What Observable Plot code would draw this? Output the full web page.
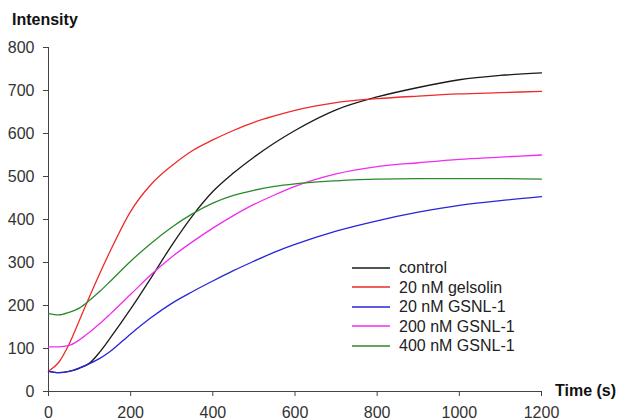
<!DOCTYPE html>
<html><head><meta charset="utf-8">
<script src="https://cdn.jsdelivr.net/npm/d3@7"></script>
<script src="https://cdn.jsdelivr.net/npm/@observablehq/plot@0.6"></script>
<style>
body{margin:0;background:#fff;}
#wrap{position:relative;width:620px;height:420px;font-family:"Liberation Sans",Arial,sans-serif;color:#222;}
.lab{position:absolute;font-weight:bold;font-size:16px;line-height:16px;white-space:nowrap;color:#111;}
#legend{position:absolute;left:352px;top:258px;font-size:16px;line-height:19.5px;color:#222;}
#legend .row{display:flex;align-items:center;height:19.5px;white-space:nowrap;}
#legend svg{margin-right:9px;}
</style></head><body><div id="wrap"></div>
<script>
const times   = [0, 25, 50, 75, 100, 125, 150, 200, 250, 300, 350, 400, 450, 500, 550, 600, 700, 800, 900, 1000, 1100, 1200];
const control = [47, 44, 47, 54, 66, 92, 124, 192, 265, 340, 408, 465, 508, 545, 578, 607, 655, 685, 707, 725, 735, 741];
const gelsolin20 = [47, 68, 110, 165, 221, 275, 326, 419, 482, 525, 560, 585, 607, 626, 641, 654, 672, 681, 687, 692, 695, 698];
const gsnl20  = [47, 44, 47, 55, 65, 77, 93, 134, 172, 205, 232, 257, 281, 303, 324, 342, 373, 397, 417, 433, 444, 453];
const gsnl200 = [104, 104, 107, 120, 138, 158, 180, 226, 272, 313, 348, 380, 409, 435, 457, 477, 506, 523, 532, 540, 545, 550];
const gsnl400 = [181, 178, 184, 194, 212, 233, 256, 303, 345, 382, 413, 438, 456, 468, 477, 483, 490, 494, 495, 495, 495, 494];

const seriesNames  = ["control", "20 nM gelsolin", "20 nM GSNL-1", "200 nM GSNL-1", "400 nM GSNL-1"];
const seriesValues = [control, gelsolin20, gsnl20, gsnl200, gsnl400];
const seriesColors = ["#1a1a1a", "#ee2a2a", "#2626d8", "#f02cf0", "#2a8a2a"];
const xTicks = [0, 200, 400, 600, 800, 1000, 1200];
const yTicks = [0, 100, 200, 300, 400, 500, 600, 700, 800];
const yTitle = "Intensity";
const xTitle = "Time (s)";

const rows = [];
seriesValues.forEach((vals, i) => vals.forEach((v, j) => rows.push({t: times[j], v, s: seriesNames[i]})));

const chart = Plot.plot({
  width: 620, height: 420,
  marginLeft: 48, marginRight: 79, marginTop: 47, marginBottom: 29,
  style: {fontFamily: "Liberation Sans, Arial, sans-serif", fontSize: "16px", color: "#333", background: "white"},
  x: {domain: [0, 1200]},
  y: {domain: [0, 800]},
  color: {domain: seriesNames, range: seriesColors},
  marks: [
    Plot.ruleY([0], {stroke: "#444"}),
    Plot.ruleX([0], {stroke: "#444"}),
    Plot.axisX({ticks: xTicks, tickFormat: d3.format("d"), tickSize: 5, tickPadding: 10, label: null, stroke: "#444", fill: "#333", fontSize: 16}),
    Plot.axisY({ticks: yTicks, tickFormat: d3.format("d"), tickSize: 5, tickPadding: 9, label: null, stroke: "#444", fill: "#333", fontSize: 16}),
    Plot.line(rows, {x: "t", y: "v", z: "s", stroke: "s", strokeWidth: 1.3, curve: "monotone-x"})
  ]
});

const wrap = document.getElementById("wrap");
wrap.appendChild(chart);

const t1 = document.createElement("div");
t1.className = "lab"; t1.textContent = yTitle; t1.style.left = "12px"; t1.style.top = "12px";
wrap.appendChild(t1);
const t2 = document.createElement("div");
t2.className = "lab"; t2.textContent = xTitle; t2.style.left = "555px"; t2.style.top = "383px";
wrap.appendChild(t2);

const legend = d3.select(wrap).append("div").attr("id", "legend");
seriesNames.forEach((name, i) => {
  const r = legend.append("div").attr("class", "row");
  r.append("svg").attr("width", 38).attr("height", 4)
    .append("line").attr("x1", 0).attr("x2", 38).attr("y1", 2).attr("y2", 2)
    .attr("stroke", seriesColors[i]).attr("stroke-width", 1.4);
  r.append("span").text(name);
});
</script>
</body></html>
